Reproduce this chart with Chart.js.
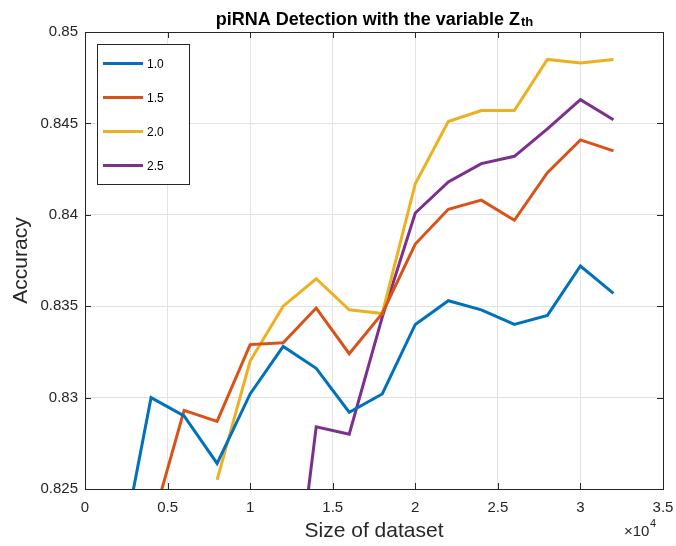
<!DOCTYPE html>
<html>
<head>
<meta charset="utf-8">
<title>piRNA Detection</title>
<script src="https://cdn.jsdelivr.net/npm/chart.js@4.4.1/dist/chart.umd.min.js"></script>
<style>
  html, body { margin: 0; padding: 0; background: #fff; }
  #wrap { width: 676px; height: 546px; position: relative; }
</style>
</head>
<body>
<div id="wrap"><canvas id="chart" width="676" height="546"></canvas></div>
<script>
// ===== DATA =====
const sizes = [2000, 4000, 6000, 8000, 10000, 12000, 14000, 16000, 18000,
               20000, 22000, 24000, 26000, 28000, 30000, 32000];
const seriesLabels = ["1.0", "1.5", "2.0", "2.5"];
const acc10 = [0.8206, 0.8300, 0.8290, 0.8264, 0.8302, 0.8328, 0.8316, 0.8292, 0.8302,
               0.8340, 0.8353, 0.8348, 0.8340, 0.8345, 0.8372, 0.8357];
const acc15 = [null, 0.8229, 0.8293, 0.8287, 0.8329, 0.8330, 0.8349, 0.8324, 0.8346,
               0.8384, 0.8403, 0.8408, 0.8397, 0.8423, 0.8441, 0.8435];
const acc20 = [null, null, null, 0.8255, 0.8320, 0.8350, 0.8365, 0.8348, 0.8346,
               0.8417, 0.8451, 0.8457, 0.8457, 0.8485, 0.8483, 0.8485];
const acc25 = [null, null, null, null, null, 0.8138, 0.8284, 0.8280, 0.8344,
               0.8401, 0.8418, 0.8428, 0.8432, 0.8447, 0.8463, 0.8452];
const xTicks = [0, 0.5, 1, 1.5, 2, 2.5, 3, 3.5];
const yTicks = [0.825, 0.83, 0.835, 0.84, 0.845, 0.85];
const colors = ["#0072BD", "#D95319", "#EDB120", "#7E2F8E"];

const FONT = "'Liberation Sans', Arial, Helvetica, sans-serif";
const AXIS_COLOR = "#262626";

function toPoints(vals) {
  return sizes.map((s, i) => ({ x: s, y: vals[i] }));
}

// ===== PLUGIN: box, inward ticks, title, legend, exponent =====
const matlabFrame = {
  id: "matlabFrame",
  afterDatasetsDraw(chart) {
    const { ctx, chartArea: a, scales } = chart;
    const xs = scales.x, ys = scales.y;
    ctx.save();
    ctx.strokeStyle = AXIS_COLOR;
    ctx.lineWidth = 1;
    // box
    ctx.strokeRect(Math.round(a.left) + 0.5, Math.round(a.top) + 0.5,
      Math.round(a.right - a.left), Math.round(a.bottom - a.top));
    // inward ticks
    ctx.beginPath();
    xTicks.forEach(t => {
      const px = Math.round(xs.getPixelForValue(t * 10000)) + 0.5;
      ctx.moveTo(px, a.bottom); ctx.lineTo(px, a.bottom - 6);
      ctx.moveTo(px, a.top); ctx.lineTo(px, a.top + 6);
    });
    yTicks.forEach(t => {
      const py = Math.round(ys.getPixelForValue(t)) + 0.5;
      ctx.moveTo(a.left, py); ctx.lineTo(a.left + 6, py);
      ctx.moveTo(a.right, py); ctx.lineTo(a.right - 6, py);
    });
    ctx.stroke();

    // legend
    const lx = 97.5, ly = 44.5, lw = 92, lh = 140;
    ctx.fillStyle = "#fff";
    ctx.fillRect(lx, ly, lw, lh);
    ctx.strokeStyle = AXIS_COLOR;
    ctx.strokeRect(lx, ly, lw, lh);
    chart.data.datasets.forEach((ds, i) => {
      const y = 63.5 + i * 34;
      ctx.strokeStyle = ds.borderColor;
      ctx.lineWidth = 3;
      ctx.beginPath();
      ctx.moveTo(103, y); ctx.lineTo(143, y);
      ctx.stroke();
      ctx.fillStyle = "#000";
      ctx.font = "12px " + FONT;
      ctx.textAlign = "left";
      ctx.textBaseline = "middle";
      ctx.fillText(ds.label, 147, y + 1);
    });

    // title with subscript
    const main = "piRNA Detection with the variable Z";
    ctx.fillStyle = "#000";
    ctx.textBaseline = "alphabetic";
    ctx.font = "bold 18px " + FONT;
    const w1 = ctx.measureText(main).width;
    ctx.font = "bold 13px " + FONT;
    const w2 = ctx.measureText("th").width;
    const tx = (a.left + a.right) / 2 - (w1 + w2) / 2;
    ctx.font = "bold 18px " + FONT;
    ctx.textAlign = "left";
    ctx.fillText(main, tx, 25);
    ctx.font = "bold 13px " + FONT;
    ctx.fillText("th", tx + w1 + 1, 26);

    // exponent label
    ctx.fillStyle = "#262626";
    ctx.font = "15px " + FONT;
    ctx.fillText("\u00d710", 624, 536);
    const we = ctx.measureText("\u00d710").width;
    ctx.font = "11px " + FONT;
    ctx.fillText("4", 624 + we + 0.5, 527);
    ctx.restore();
  }
};

// ===== CHART =====
new Chart(document.getElementById("chart"), {
  type: "line",
  data: {
    datasets: [acc10, acc15, acc20, acc25].map((vals, i) => ({
      label: seriesLabels[i],
      data: toPoints(vals),
      borderColor: colors[i],
      backgroundColor: colors[i],
      borderWidth: 3,
      pointRadius: 0,
      tension: 0,
      clip: 0,
      spanGaps: false
    }))
  },
  options: {
    responsive: false,
    animation: false,
    layout: { padding: { left: 0, top: 32, right: 13, bottom: 0 } },
    plugins: {
      legend: { display: false },
      tooltip: { enabled: false },
      title: { display: false }
    },
    scales: {
      x: {
        type: "linear",
        min: 0,
        max: 35000,
        afterBuildTicks: s => { s.ticks = xTicks.map(v => ({ value: v * 10000 })); },
        afterFit: s => { s.height = 57; s.paddingLeft = 0; s.paddingRight = 0; },
        grid: { color: "#e3e3e3", drawTicks: false },
        border: { display: false },
        ticks: {
          color: "#262626",
          font: { family: FONT, size: 15 },
          padding: 10,
          maxRotation: 0,
          callback: v => String(Number((v / 10000).toFixed(1)))
        },
        title: {
          display: true,
          text: "Size of dataset",
          color: "#262626",
          font: { family: FONT, size: 21 },
          padding: { top: 0, bottom: 2 }
        }
      },
      y: {
        type: "linear",
        min: 0.825,
        max: 0.85,
        afterBuildTicks: s => { s.ticks = yTicks.map(v => ({ value: v })); },
        afterFit: s => { s.width = 85; s.paddingTop = 0; s.paddingBottom = 0; },
        grid: { color: "#e3e3e3", drawTicks: false },
        border: { display: false },
        ticks: {
          color: "#262626",
          font: { family: FONT, size: 15 },
          padding: 7,
          callback: v => String(Number(v.toFixed(3)))
        },
        title: {
          display: true,
          text: "Accuracy",
          color: "#262626",
          font: { family: FONT, size: 21 },
          padding: { top: 9, bottom: 0 }
        }
      }
    }
  },
  plugins: [matlabFrame]
});
</script>
</body>
</html>
